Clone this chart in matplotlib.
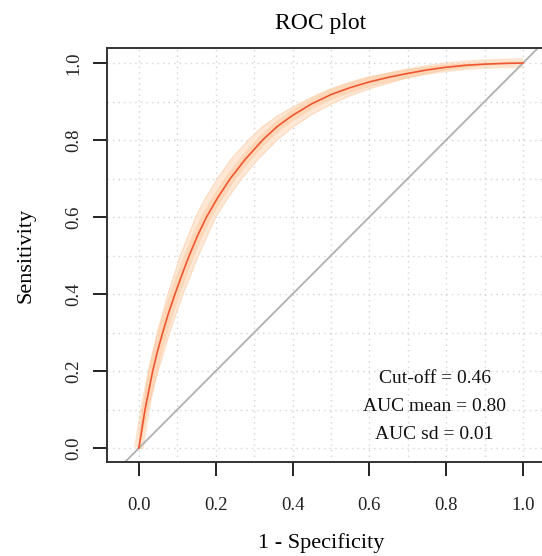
import matplotlib

matplotlib.use("Agg")
import matplotlib.pyplot as plt

# mean ROC curve (1 - specificity, sensitivity)
mean_fpr = [0.0, 0.008, 0.016, 0.026, 0.036, 0.048, 0.062, 0.077, 0.094, 0.112,
            0.131, 0.152, 0.176, 0.205, 0.238, 0.277, 0.322, 0.360, 0.400,
            0.450, 0.500, 0.550, 0.600, 0.650, 0.700, 0.750, 0.800, 0.850,
            0.900, 0.950, 1.0]
mean_tpr = [0.0, 0.05, 0.10, 0.15, 0.20, 0.25, 0.30, 0.35, 0.40, 0.45,
            0.50, 0.55, 0.60, 0.65, 0.70, 0.75, 0.80, 0.835, 0.864,
            0.894, 0.918, 0.936, 0.951, 0.963, 0.973, 0.982, 0.989, 0.994,
            0.997, 0.999, 1.0]

# upper-left edge of the resampled curve bundle
upper_fpr = [0.0, 0.010, 0.026, 0.048, 0.076, 0.108, 0.148, 0.174, 0.205,
             0.240, 0.285, 0.320, 0.360, 0.400, 0.450, 0.500, 0.550, 0.600,
             0.700, 0.800, 0.900, 1.0]
upper_tpr = [0.0, 0.10, 0.20, 0.30, 0.40, 0.50, 0.60, 0.65, 0.70,
             0.75, 0.80, 0.833, 0.862, 0.885, 0.911, 0.933, 0.950, 0.964,
             0.983, 0.994, 0.998, 1.0]

# lower-right edge of the bundle
lower_fpr = [0.0, 0.022, 0.050, 0.080, 0.115, 0.155, 0.200, 0.232, 0.268,
             0.310, 0.360, 0.400, 0.450, 0.500, 0.550, 0.600, 0.700, 0.800,
             0.900, 1.0]
lower_tpr = [0.0, 0.10, 0.20, 0.30, 0.40, 0.50, 0.60, 0.65, 0.70,
             0.75, 0.80, 0.833, 0.866, 0.893, 0.915, 0.933, 0.962, 0.983,
             0.995, 1.0]

tick_values = [0.0, 0.2, 0.4, 0.6, 0.8, 1.0]
grid_values = [i / 10 for i in range(11)]
stats_text = ["Cut-off = 0.46", "AUC mean = 0.80", "AUC sd = 0.01"]


def main() -> None:
    plt.rcParams["font.family"] = ["Liberation Serif", "DejaVu Serif"]

    fig = plt.figure(figsize=(5.42, 5.56), dpi=100)
    ax = fig.add_axes([0.1974, 0.1691, 0.8126, 0.7446])
    ax.set_xlim(-0.083, 1.0635)
    ax.set_ylim(-0.036, 1.039)

    for v in grid_values:
        ax.axvline(v, color="#d3d3d3", lw=1.0, ls=(0, (1, 3)), zorder=0)
        ax.axhline(v, color="#d3d3d3", lw=1.0, ls=(0, (1, 3)), zorder=0)

    band_x = upper_fpr + lower_fpr[::-1]
    band_y = upper_tpr + lower_tpr[::-1]
    ax.fill(band_x, band_y, color="#fee7d5", lw=0, zorder=1)
    ax.plot(upper_fpr, upper_tpr, color="#fdd9bb", lw=0.8, zorder=1)
    ax.plot(lower_fpr, lower_tpr, color="#fdd9bb", lw=0.8, zorder=1)
    # denser core of the bundle around the mean curve
    ax.plot(mean_fpr, mean_tpr, color="#fcc496", lw=7, alpha=0.45,
            solid_capstyle="butt", zorder=1)

    ax.axline((0, 0), slope=1, color="#b0b0b0", lw=1.3, zorder=2)
    ax.plot(mean_fpr, mean_tpr, color="#ef5630", lw=1.2, zorder=3)

    for i, line in enumerate(stats_text):
        ax.text(0.77, 0.18 - 0.072 * i, line, ha="center", va="center",
                fontsize=14, color="#111111")

    ax.set_xticks(tick_values)
    ax.set_yticks(tick_values)
    ax.set_xticklabels([f"{v:.1f}" for v in tick_values], fontsize=13.5)
    ax.set_yticklabels([f"{v:.1f}" for v in tick_values], rotation=90,
                       va="center", fontsize=13.5)
    ax.tick_params(length=10, width=1.4, color="#222222",
                   labelcolor="#222222")
    ax.tick_params(axis="x", pad=15)
    ax.tick_params(axis="y", pad=8)

    for spine in ax.spines.values():
        spine.set_linewidth(1.4)
        spine.set_color("#333333")

    ax.set_title("ROC plot", fontsize=17, pad=13.7, x=0.486)
    ax.set_xlabel("1 - Specificity", fontsize=16)
    ax.xaxis.set_label_coords(0.486, -0.172)
    ax.set_ylabel("Sensitivity", fontsize=16)
    ax.yaxis.set_label_coords(-0.163, 0.5)

    fig.savefig("out.png", dpi=100)


if __name__ == "__main__":
    main()
